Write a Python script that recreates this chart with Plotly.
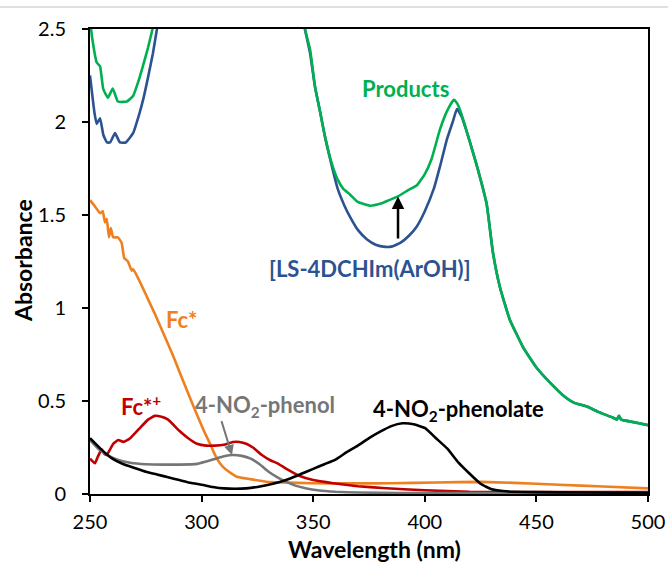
import plotly.graph_objects as go

# ---------------- data ----------------
wl_blue = [250, 252, 253, 254.5, 256, 257.6, 259, 261.2, 263.4, 266, 269.3, 272, 274, 276, 278.2, 280, 282, 284,
           343, 345, 346.3, 348.6, 350.8, 353, 355.3, 358, 361, 364, 366.5, 370, 374, 378, 381.3, 385, 389, 393,
           396.5, 400, 404, 407, 410, 412.5, 414.4, 416.5, 419, 421.5, 423.9, 427.7, 430.5, 433.7, 438, 444, 450,
           456, 462, 467, 472.6, 478, 484.4, 486, 487, 488, 492, 496, 500]
abs_blue = [2.25, 2.05, 1.99, 2.02, 1.93, 1.89, 1.89, 1.94, 1.89, 1.89, 1.94, 2.04, 2.13, 2.24, 2.37, 2.50, 2.65, 2.80,
            2.80, 2.62, 2.50, 2.37, 2.19, 2.06, 1.92, 1.78, 1.64, 1.55, 1.49, 1.42, 1.37, 1.34, 1.33, 1.33, 1.35, 1.39,
            1.44, 1.52, 1.64, 1.77, 1.91, 2.00, 2.07, 2.03, 1.94, 1.84, 1.74, 1.56, 1.30, 1.11, 0.94, 0.79, 0.68,
            0.60, 0.53, 0.49, 0.47, 0.44, 0.41, 0.40, 0.42, 0.40, 0.39, 0.38, 0.37]

wl_green = [250, 251, 253, 254.5, 255.9, 258, 260.2, 262.5, 266.5, 269.3, 272, 273.7, 276, 278, 280, 282,
            343, 345, 346.3, 348.6, 350.8, 353, 355.3, 358, 361, 363.5, 366.5, 370, 375.4, 380, 384, 388, 392,
            396.5, 400, 403, 406.8, 410, 413, 414.5, 416.5, 419, 421.5, 423.9, 427.7, 430.5, 433.7, 438, 444, 450,
            456, 462, 467, 472.6, 478, 484.4, 486, 487, 488, 492, 496, 500]
abs_green = [2.55, 2.45, 2.32, 2.30, 2.18, 2.13, 2.18, 2.11, 2.11, 2.14, 2.23, 2.30, 2.40, 2.50, 2.62, 2.75,
             2.75, 2.60, 2.50, 2.39, 2.19, 2.06, 1.92, 1.79, 1.69, 1.64, 1.61, 1.57, 1.55, 1.56, 1.58, 1.60, 1.63,
             1.66, 1.72, 1.80, 1.96, 2.06, 2.12, 2.10, 2.04, 1.94, 1.84, 1.74, 1.56, 1.30, 1.11, 0.94, 0.79, 0.68,
             0.60, 0.53, 0.49, 0.47, 0.44, 0.41, 0.40, 0.42, 0.40, 0.39, 0.38, 0.37]

wl_fc = [250, 252, 254.5, 255.7, 256.7, 257.5, 258.5, 259.3, 260.4, 262.5, 264.2, 265.3, 267, 268.7, 269.3, 272,
         275.5, 279, 283, 287, 290.3, 294, 297.8, 301, 303.8, 306, 308.2, 311, 315.7, 321.7, 329, 336.5, 350, 366.5,
         385, 405, 425, 440, 460, 480, 500]
abs_fc = [1.58, 1.55, 1.51, 1.52, 1.46, 1.48, 1.38, 1.43, 1.38, 1.38, 1.35, 1.27, 1.25, 1.20, 1.21, 1.15,
          1.06, 0.97, 0.86, 0.75, 0.65, 0.54, 0.43, 0.34, 0.27, 0.21, 0.165, 0.13, 0.093, 0.08, 0.066, 0.062, 0.058,
          0.057, 0.058, 0.062, 0.065, 0.06, 0.05, 0.04, 0.03]

wl_fcp = [250, 252.2, 253.5, 255.2, 256.5, 257.5, 259, 260.4, 262.7, 265, 268, 272, 276, 279, 282, 285, 290, 294,
          298, 302, 306, 310, 314, 317, 320, 323, 327, 331, 334, 338, 344, 350, 359, 370, 381, 400, 420, 450, 500]
abs_fcp = [0.19, 0.165, 0.20, 0.24, 0.215, 0.21, 0.24, 0.27, 0.29, 0.28, 0.30, 0.35, 0.40, 0.42, 0.415, 0.40, 0.34,
           0.30, 0.27, 0.26, 0.26, 0.265, 0.28, 0.28, 0.27, 0.25, 0.21, 0.18, 0.165, 0.135, 0.097, 0.075, 0.058,
           0.042, 0.032, 0.02, 0.012, 0.01, 0.01]

wl_phenol = [250, 254, 257.6, 262, 268, 275, 283, 290, 298, 305, 310, 314, 318, 322, 326, 330, 334, 338, 342, 347,
             352, 360, 370, 390, 420, 460, 500]
abs_phenol = [0.29, 0.24, 0.21, 0.185, 0.168, 0.16, 0.158, 0.158, 0.162, 0.185, 0.203, 0.21, 0.205, 0.19, 0.16,
              0.12, 0.09, 0.065, 0.045, 0.03, 0.02, 0.012, 0.008, 0.005, 0.005, 0.005, 0.005]

wl_phenolate = [250, 255, 260, 265, 270, 275, 280, 285, 290, 295, 300, 305, 310, 315, 320, 325, 330, 335, 340, 345,
                350, 355, 360, 365, 370, 375, 380, 385, 390, 395, 400, 405, 410, 415, 420, 425, 430, 435, 440, 450,
                470, 500]
abs_phenolate = [0.30, 0.24, 0.19, 0.16, 0.14, 0.12, 0.105, 0.09, 0.075, 0.06, 0.05, 0.038, 0.03, 0.028, 0.03,
                 0.038, 0.05, 0.065, 0.085, 0.11, 0.135, 0.16, 0.185, 0.225, 0.26, 0.30, 0.335, 0.365, 0.38, 0.375,
                 0.355, 0.30, 0.245, 0.17, 0.11, 0.055, 0.025, 0.016, 0.012, 0.01, 0.008, 0.006]

x_ticks = [250, 300, 350, 400, 450, 500]
y_ticks = [0, 0.5, 1, 1.5, 2, 2.5]
y_tick_labels = ["0", "0.5", "1", "1.5", "2", "2.5"]
x_title = "Wavelength (nm)"
y_title = "Absorbance"

BLUE = "#2B5391"
GREEN = "#00B050"
ORANGE = "#EE8020"
RED = "#C00000"
GRAY = "#767676"
BLACK = "#000000"
FONT = "Lato"

fig = go.Figure()
series = [
    (wl_fc, abs_fc, ORANGE),
    (wl_fcp, abs_fcp, RED),
    (wl_phenol, abs_phenol, GRAY),
    (wl_phenolate, abs_phenolate, BLACK),
    (wl_blue, abs_blue, BLUE),
    (wl_green, abs_green, GREEN),
]
for xs, ys, c in series:
    fig.add_trace(go.Scatter(x=xs, y=ys, mode="lines", line=dict(color=c, width=2.6, shape="spline", smoothing=0.4),
                             showlegend=False, hoverinfo="skip"))

def label(x, y, text, color, size=22):
    fig.add_annotation(x=x, y=y, xref="x", yref="y", text=f"<b>{text}</b>", showarrow=False,
                       font=dict(family=FONT, size=size, color=color))

label(391.4, 2.18, "Products", GREEN)
label(375.4, 1.215, "[LS-4DCHIm(ArOH)]", BLUE)
label(291.0, 0.94, "Fc*", ORANGE)
label(272.8, 0.475, "Fc*<sup>+</sup>", RED)
label(328.4, 0.475, "4-NO<sub>2</sub>-phenol", GRAY)
label(415.1, 0.45, "4-NO<sub>2</sub>-phenolate", BLACK)

# arrows
fig.add_annotation(x=388, y=1.60, ax=388, ay=1.366, xref="x", yref="y", axref="x", ayref="y",
                   text="", showarrow=True, arrowhead=2, arrowsize=1, arrowwidth=2.5, arrowcolor=BLACK)
fig.add_annotation(x=313.6, y=0.21, ax=308.7, ay=0.40, xref="x", yref="y", axref="x", ayref="y",
                   text="", showarrow=True, arrowhead=2, arrowsize=1, arrowwidth=2, arrowcolor=GRAY)

# axis titles
fig.add_annotation(x=0.51, y=-0.1183, xref="paper", yref="paper", text=f"<b>{x_title}</b>", showarrow=False,
                   xanchor="center", yanchor="middle", font=dict(family=FONT, size=23, color="black"))
fig.add_annotation(x=-0.12, y=0.501, xref="paper", yref="paper", text=f"<b>{y_title}</b>", showarrow=False,
                   textangle=-90, xanchor="center", yanchor="middle", font=dict(family=FONT, size=23, color="black"))

# faint line at top of the image
fig.add_shape(type="line", xref="paper", yref="paper", x0=-90 / 558, x1=578 / 558, y0=487 / 465, y1=487 / 465,
              line=dict(color="#D6D6D6", width=1.5))

axis_common = dict(showline=True, linecolor="black", linewidth=2, mirror=True, ticks="outside", ticklen=6,
                   tickwidth=2, tickcolor="black", showgrid=False, zeroline=False, automargin=False,
                   tickfont=dict(family=FONT, size=20, color="black"))
fig.update_xaxes(range=[250, 500], tickvals=x_ticks, ticktext=[str(v) for v in x_ticks], ticklabelstandoff=3,
                 **axis_common)
fig.update_yaxes(range=[0, 2.5], tickvals=y_ticks, ticktext=y_tick_labels, ticklabelstandoff=12,
                 **axis_common)
fig.update_layout(width=668, height=563, margin=dict(l=90, r=20, t=29, b=69), plot_bgcolor="white",
                  paper_bgcolor="white")
fig.write_html("out.html")
